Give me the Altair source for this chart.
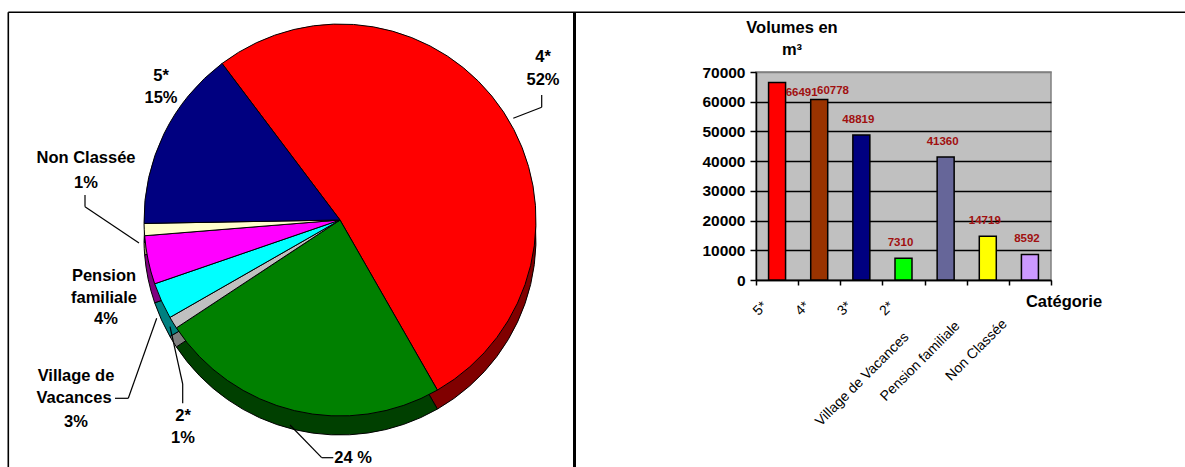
import math
import altair as alt
import pandas as pd

# ---------------- data ----------------
bar_cats = ["5*", "4*", "3*", "2*", "Village de Vacances", "Pension familiale", "Non Classée"]
bar_vals = [66491, 60778, 48819, 7310, 41360, 14719, 8592]
bar_colors = ["#FF0000", "#993300", "#000080", "#00FF00", "#666699", "#FFFF00", "#CC99FF"]

pie_cats = ["4*", "3*", "2*", "Village de Vacances", "Pension familiale", "Non Classée", "5*"]
pie_pcts = [52, 24, 1, 3, 4, 1, 15]
pie_colors = ["#FF0000", "#008000", "#C0C0C0", "#00FFFF", "#FF00FF", "#FFFFCC", "#000080"]
pie_side = ["#800000", "#004000", "#808080", "#008080", "#800080", "#999966", "#000040"]

y_ticks = [0, 10000, 20000, 30000, 40000, 50000, 60000, 70000]

# ---------------- layout (page pixels) ----------------
LEFT, TOP, W, H = 756, 72, 295, 208
PAGE_W, PAGE_H = 1185, 467
FONT = "Liberation Sans"


def px(X):
    return X - LEFT


def py(Y):
    return Y - TOP


bars_df = pd.DataFrame({"cat": bar_cats, "val": bar_vals})
pie_df = pd.DataFrame({"slice": pie_cats, "pct": pie_pcts, "idx": list(range(len(pie_cats)))})

ann_rows = [
    ("4*", 543, 57), ("52%", 543, 80),
    ("5*", 161, 76), ("15%", 161, 98),
    ("Non Classée", 86, 158), ("1%", 86, 183),
    ("Pension", 104, 276), ("familiale", 104, 298), ("4%", 106, 319),
    ("Village de", 76, 376), ("Vacances", 74, 398), ("3%", 76, 422),
    ("2*", 183, 416), ("1%", 183, 438),
    ("24 %", 353, 458),
    ("Volumes en", 792, 28), ("m³", 792, 50), ("Catégorie", 1064, 302),
]
ann_df = pd.DataFrame({
    "t": [r[0] for r in ann_rows],
    "x": [px(r[1]) for r in ann_rows],
    "y": [py(r[2]) for r in ann_rows],
})

seg_rows = [
    (541.7, 95, 541.7, 107.3, 1.2), (541.7, 107.3, 513.3, 118.3, 1.2),
    (85, 195, 85, 206.7, 1.2), (85, 206.7, 139, 243, 1.2),
    (115, 398.3, 128.3, 398.3, 1.2), (128.3, 398.3, 156.7, 318.3, 1.2),
    (182.7, 403.3, 182.7, 384, 1.2), (182.7, 384, 170, 326.7, 1.2),
    (333.3, 457.7, 321.7, 457.7, 1.2), (321.7, 457.7, 290, 425, 1.2),
    (8.3, 12.3, 1185, 12.3, 1.6),
    (8.3, 12.3, 8.3, 470, 1.6),
    (574.5, 12.3, 574.5, 470, 3),
]
seg_df = pd.DataFrame({
    "x1": [px(r[0]) for r in seg_rows], "y1": [py(r[1]) for r in seg_rows],
    "x2": [px(r[2]) for r in seg_rows], "y2": [py(r[3]) for r in seg_rows],
    "w": [r[4] for r in seg_rows],
})

# ---------------- scales ----------------
x_scale = alt.Scale(domain=bar_cats, paddingInner=0, paddingOuter=0)
y_scale = alt.Scale(domain=[0, 70000], nice=False, zero=True)

# ---------------- bar chart ----------------
bars = alt.Chart(bars_df).mark_bar(size=17, stroke="black", strokeWidth=1.5).encode(
    x=alt.X("cat:N", scale=x_scale, axis=alt.Axis(
        labels=False, title=None, tickBand="extent", tickSize=5, tickColor="black",
        tickWidth=1.5, domainColor="black", domainWidth=1.5, grid=False)),
    y=alt.Y("val:Q", scale=y_scale, stack=None, axis=alt.Axis(
        values=y_ticks, format="d", title=None, labelFont=FONT, labelFontSize=15.5,
        labelFontWeight="bold", labelColor="black", labelPadding=5, tickColor="black",
        tickSize=6, tickWidth=1.5, domainColor="black", domainWidth=1.5, grid=True,
        gridColor={"condition": {"test": "datum.value >= 70000", "value": "#808080"}, "value": "black"},
        gridWidth=1.5)),
    color=alt.Color("cat:N", scale=alt.Scale(domain=bar_cats, range=bar_colors), legend=None),
)


def value_labels(cats, dx, dy):
    return alt.Chart(bars_df).transform_filter(
        alt.FieldOneOfPredicate(field="cat", oneOf=cats)
    ).mark_text(font=FONT, fontSize=11.5, fontWeight="bold", color="#A01010",
                align="center", baseline="middle", dx=dx, dy=dy).encode(
        x=alt.X("cat:N", scale=x_scale, axis=None),
        y=alt.Y("val:Q", scale=y_scale, axis=None),
        text=alt.Text("val:Q", format="d"),
    )


lab_main = value_labels(bar_cats[2:], -3, -15)
lab_5 = value_labels(["5*"], 24.6, 11)
lab_4 = value_labels(["4*"], 13.8, -8)

C45 = math.cos(math.radians(45))


def cat_labels(cats, sx, sy):
    dx = C45 * (sx - sy)
    dy = C45 * (sx + sy)
    return alt.Chart(bars_df).transform_filter(
        alt.FieldOneOfPredicate(field="cat", oneOf=cats)
    ).mark_text(font=FONT, fontSize=14, color="black", angle=315, align="right",
                baseline="middle", dx=dx, dy=dy).encode(
        x=alt.X("cat:N", scale=x_scale, axis=None),
        y=alt.value(H),
        text="cat:N",
    )


xl_short = cat_labels(bar_cats[:4], -12, 24)
xl_vil = cat_labels(["Village de Vacances"], -39, 55)
xl_pen = cat_labels(["Pension familiale"], -30, 44)
xl_non = cat_labels(["Non Classée"], -25, 42)

# ---------------- pie ----------------
t0 = math.radians(323)
theta_scale = alt.Scale(domain=[0, 100], range=[t0, t0 + 2 * math.pi])
R = 196
CX, CY, DEPTH = 340, 220, 19

pie_depth = alt.Chart(pie_df).mark_arc(radius=R, stroke="black", strokeWidth=1).encode(
    theta=alt.Theta("pct:Q", stack=True, scale=theta_scale),
    color=alt.Color("slice:N", scale=alt.Scale(domain=pie_cats, range=pie_side), legend=None),
    order=alt.Order("idx:Q"),
    x=alt.value(px(CX)), y=alt.value(py(CY + DEPTH)),
)
pie_top = alt.Chart(pie_df).mark_arc(radius=R, stroke="black", strokeWidth=1).encode(
    theta=alt.Theta("pct:Q", stack=True, scale=theta_scale),
    color=alt.Color("slice:N", scale=alt.Scale(domain=pie_cats, range=pie_colors), legend=None),
    order=alt.Order("idx:Q"),
    x=alt.value(px(CX)), y=alt.value(py(CY)),
)

texts = alt.Chart(ann_df).mark_text(font=FONT, fontSize=16.5, fontWeight="bold", color="black",
                                    align="center", baseline="middle").encode(
    x=alt.X("x:Q", scale=None, axis=None),
    y=alt.Y("y:Q", scale=None, axis=None),
    text="t:N",
)

segs = alt.Chart(seg_df).mark_rule(color="black").encode(
    x=alt.X("x1:Q", scale=None, axis=None),
    y=alt.Y("y1:Q", scale=None, axis=None),
    x2="x2:Q", y2="y2:Q",
    strokeWidth=alt.StrokeWidth("w:Q", scale=None, legend=None),
)

chart = alt.layer(
    bars, lab_main, lab_5, lab_4, xl_short, xl_vil, xl_pen, xl_non,
    pie_depth, pie_top, texts, segs,
).resolve_scale(
    x="independent", y="independent", color="independent"
).properties(
    width=W, height=H,
    autosize=alt.AutoSizeParams(type="none"),
    padding={"left": LEFT, "top": TOP, "right": PAGE_W - LEFT - W, "bottom": PAGE_H - TOP - H},
    background="white",
).configure_view(
    fill="#C0C0C0", stroke="#808080", strokeWidth=1.5
)

chart.save("out.html", embed_options={"renderer": "svg", "actions": False})
